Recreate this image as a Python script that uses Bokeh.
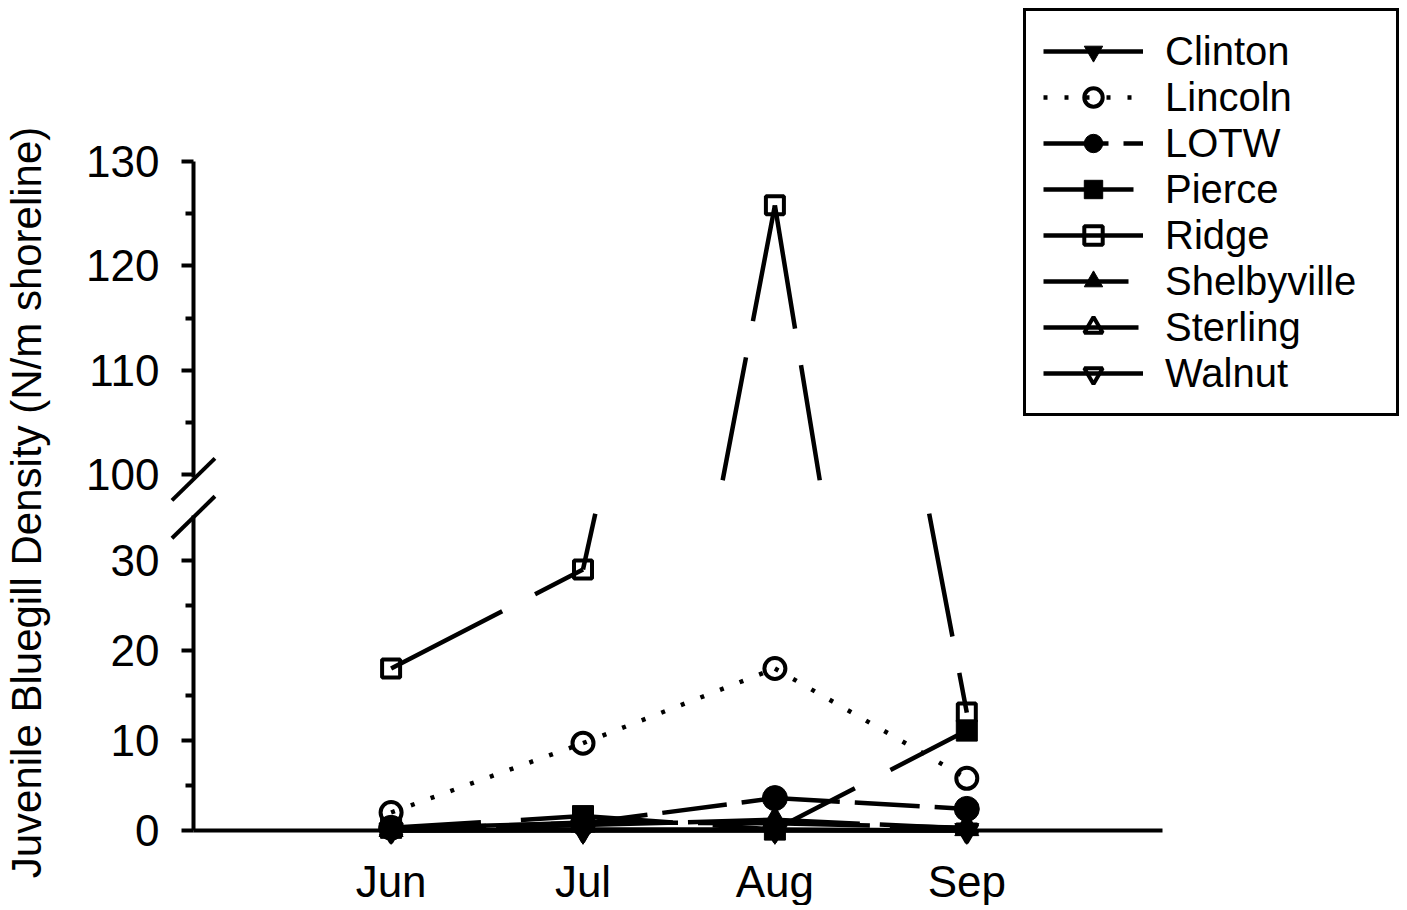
from bokeh.plotting import figure
from bokeh.models import Range1d, LinearAxis, FixedTicker, Legend, LegendItem
from bokeh.embed import file_html
from bokeh.resources import INLINE

# ---------------- data ----------------
months = ["Jun", "Jul", "Aug", "Sep"]
clinton = [0.0, 0.0, 0.0, 0.0]
lincoln = [2.0, 9.7, 18.0, 5.8]
lotw = [0.3, 0.8, 3.6, 2.4]
pierce = [0.3, 1.6, 0.1, 11.1]
ridge = [18.0, 29.0, 125.8, 13.1]
shelbyville = [0.1, 0.6, 1.2, 0.2]
sterling = [0.1, 0.9, 0.8, 0.3]
walnut = [0.0, 0.1, 0.1, 0.0]

lower_ticks = [0, 10, 20, 30]
lower_minor = [5, 15, 25]
upper_ticks = [100, 110, 120, 130]
upper_minor = [105, 115, 125]
lower_top = 35.0      # top of the lower segment of the broken axis
upper_bottom = 99.7   # bottom of the upper segment
upper_top = 130.0

y_label = "Juvenile Bluegill Density (N/m shoreline)"
FONT = "Liberation Sans"

# ---------------- geometry (frame = whole canvas) ----------------
W, H = 1405, 905
LOW_PX = 9.0                      # px per unit, lower panel
UP_PX = 10.433                    # px per unit, upper panel
low_zero_c = 830.0                # canvas y of value 0
up_100_c = 474.0                  # canvas y of value 100
X_PX = 191.9
jun_c = 390.6                     # canvas x of first month

low_range = Range1d(-(H - low_zero_c) / LOW_PX, low_zero_c / LOW_PX)
up_range = Range1d(100 - (H - up_100_c) / UP_PX, 100 + up_100_c / UP_PX)
x_range = Range1d(1 - jun_c / X_PX, 1 + (W - jun_c) / X_PX)
axis_x = -0.03
x_right = 5.02

xs = [i + 1 for i in range(len(months))]

p = figure(width=W, height=H, output_backend="svg", toolbar_location=None,
           x_range=x_range, y_range=low_range, x_axis_type=None, y_axis_type=None,
           min_border_left=0, min_border_right=0, min_border_top=0,
           min_border_bottom=0)
p.extra_y_ranges = {"upper": up_range}
p.grid.visible = False
p.outline_line_color = None
p.background_fill_color = "white"
p.border_fill_color = "white"


def style(ax):
    ax.axis_line_width = 4
    ax.axis_line_color = "black"
    ax.major_tick_line_width = 4
    ax.minor_tick_line_width = 4
    ax.major_tick_in = 0
    ax.minor_tick_in = 0
    ax.major_label_text_font = FONT
    ax.major_label_text_font_size = "44px"
    ax.major_label_text_color = "black"


low_ax = LinearAxis(ticker=FixedTicker(ticks=lower_ticks, minor_ticks=lower_minor),
                    bounds=(0, lower_top), fixed_location=axis_x)
style(low_ax)
low_ax.major_tick_out = 12
low_ax.minor_tick_out = 8
low_ax.major_label_standoff = 22
p.add_layout(low_ax, "left")

up_ax = LinearAxis(y_range_name="upper",
                   ticker=FixedTicker(ticks=upper_ticks, minor_ticks=upper_minor),
                   bounds=(upper_bottom, upper_top), fixed_location=axis_x)
style(up_ax)
up_ax.major_tick_out = 12
up_ax.minor_tick_out = 8
up_ax.major_label_standoff = 22
p.add_layout(up_ax, "left")

# axis carrying only the title, centred over both panels
lab_ax = LinearAxis(ticker=FixedTicker(ticks=[]), bounds=(0, 72.9), fixed_location=axis_x,
                    axis_label=y_label, axis_line_color=None, major_tick_out=0,
                    minor_tick_out=0, axis_label_standoff=144)
lab_ax.axis_label_text_font = FONT
lab_ax.axis_label_text_font_size = "42px"
lab_ax.axis_label_text_font_style = "normal"
lab_ax.axis_label_text_color = "black"
p.add_layout(lab_ax, "left")

x_ax = LinearAxis(ticker=FixedTicker(ticks=xs), bounds=(axis_x, x_right), fixed_location=0,
                  major_label_overrides={x: m for x, m in zip(xs, months)})
style(x_ax)
x_ax.major_tick_out = 0
x_ax.major_label_standoff = 26
p.add_layout(x_ax, "below")

# axis-break marks
dx = 21.5 / X_PX
dy = 21.0 / LOW_PX
up_break_low_units = (low_zero_c - (up_100_c + (100 - upper_bottom) * UP_PX)) / LOW_PX - 0.2
low_break = lower_top - 0.2
p.segment(x0=[axis_x - dx, axis_x - dx], y0=[up_break_low_units - dy, low_break - dy],
          x1=[axis_x + dx, axis_x + dx], y1=[up_break_low_units + dy, low_break + dy],
          line_color="black", line_width=4)


def clip_pieces(vals, keep_low, thr):
    px, py = [], []
    for i in range(len(vals) - 1):
        x0, x1, v0, v1 = xs[i], xs[i + 1], vals[i], vals[i + 1]
        in0 = v0 <= thr if keep_low else v0 >= thr
        in1 = v1 <= thr if keep_low else v1 >= thr
        if in0 and in1:
            px.append([x0, x1]); py.append([v0, v1])
        elif in0 or in1:
            t = (thr - v0) / (v1 - v0)
            xc = x0 + t * (x1 - x0)
            if in0:
                px.append([x0, xc]); py.append([v0, thr])
            else:
                px.append([xc, x1]); py.append([thr, v1])
    return px, py


series = [
    ("Clinton", clinton, "inverted_triangle", "black", 24, "solid"),
    ("Lincoln", lincoln, "circle", None, 21, "4 17"),
    ("LOTW", lotw, "circle", "black", 25, "65 15"),
    ("Pierce", pierce, "square", "black", 21, "90 40"),
    ("Ridge", ridge, "square", None, 18, "125 37"),
    ("Shelbyville", shelbyville, "triangle", "black", 24, "85 20"),
    ("Sterling", sterling, "triangle", None, 21, "95 20"),
    ("Walnut", walnut, "inverted_triangle", None, 21, "solid"),
]

LOW_CLIP = lower_top + 0.2
UP_CLIP = upper_bottom - 0.25

line_rs = {}
for name, vals, mk, fill, size, dash in series:
    lx, ly = clip_pieces(vals, True, LOW_CLIP)
    ux, uy = clip_pieces(vals, False, UP_CLIP)
    r = p.multi_line(xs=lx, ys=ly, line_color="black", line_width=4.5, line_dash=dash)
    p.multi_line(xs=ux, ys=uy, line_color="black", line_width=4.5, line_dash=dash,
                 y_range_name="upper")
    line_rs[name] = r

marker_rs = {}
for name, vals, mk, fill, size, dash in series:
    lo = [(x, v) for x, v in zip(xs, vals) if v <= lower_top]
    hi = [(x, v) for x, v in zip(xs, vals) if v >= upper_bottom]
    lw = 4 if fill is None else 1
    r = p.scatter(x=[a for a, _ in lo], y=[b for _, b in lo], marker=mk, size=size,
                  fill_color=fill, line_color="black", line_width=lw)
    p.scatter(x=[a for a, _ in hi], y=[b for _, b in hi], marker=mk, size=size,
              fill_color=fill, line_color="black", line_width=lw, y_range_name="upper")
    marker_rs[name] = r

LEG_H = 2 * 17 + 8 * 46
items = [LegendItem(label=name, renderers=[line_rs[name], marker_rs[name]])
         for name, *_ in series]
legend = Legend(items=items, location=(1023, H - 14 - LEG_H), margin=0, padding=17,
                glyph_width=100, glyph_height=46, spacing=0, label_standoff=22,
                label_width=214, label_height=40,
                label_text_font=FONT, label_text_font_size="40px", label_text_color="black",
                border_line_color="black", border_line_width=3, border_line_alpha=1.0,
                background_fill_color="white", background_fill_alpha=1.0)
p.add_layout(legend)

open("out.html", "w").write(file_html(p, INLINE))
